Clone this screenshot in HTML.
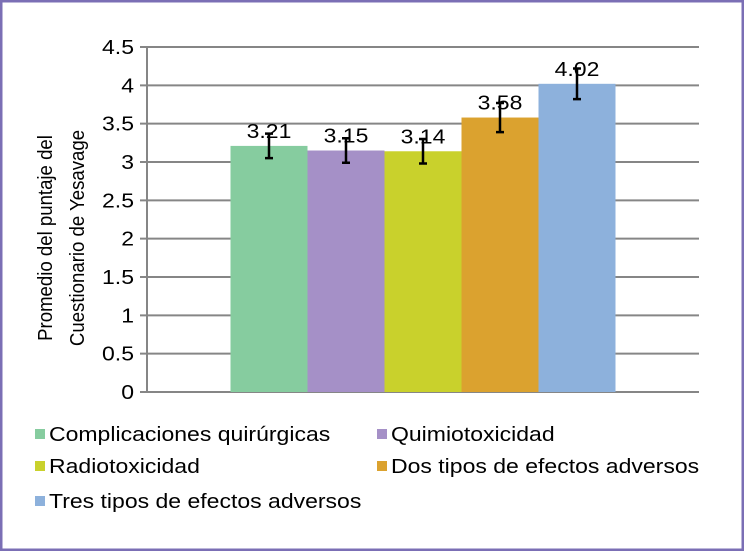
<!DOCTYPE html>
<html><head><meta charset="utf-8"><style>
body{margin:0;background:#fff}
svg{display:block;font-family:"Liberation Sans",sans-serif}
</style></head><body>
<svg id="c" width="744" height="551">
<rect x="1" y="1" width="742" height="549" fill="#fff" stroke="#7b6fb5" stroke-width="3"/>
<text id="yt" transform="translate(52,238) rotate(-90)" text-anchor="middle" font-size="20" fill="#000"><tspan x="0" dy="0">Promedio del puntaje del</tspan><tspan x="0" dy="32">Cuestionario de Yesavage</tspan></text>
<g id="grid"></g><g id="bars"></g><g id="legend"></g>
</svg>
<script>
const series=["Complicaciones quirúrgicas","Quimiotoxicidad","Radiotoxicidad","Dos tipos de efectos adversos","Tres tipos de efectos adversos"];
const values=[3.21,3.15,3.14,3.58,4.02];
const errors=[0.16,0.16,0.16,0.19,0.2];
const ticks=[0,0.5,1,1.5,2,2.5,3,3.5,4,4.5];
const colors=["#86cc9f","#a590c7","#c9d12c","#dba22f","#8db1dc"];
const NS="http://www.w3.org/2000/svg";
const x0=147,x1=699,yb=392,yt=47,ymax=4.5,SX=1.15;
const y=v=>yb-(yb-yt)*v/ymax;
function mk(t,a,p){const e=document.createElementNS(NS,t);for(const k in a)e.setAttribute(k,a[k]);p.appendChild(e);return e;}
function stretch(t,f){const w=t.getComputedTextLength();t.setAttribute('textLength',w*f);t.setAttribute('lengthAdjust','spacingAndGlyphs');}
const g=document.getElementById('grid');
ticks.forEach(t=>{
  const l=mk('line',{x1:140,x2:x1,y1:y(t),y2:y(t),stroke:'#868686','stroke-width':2},g);
  
  
  const tx=mk('text',{x:134,y:y(t)+7,'text-anchor':'end','font-size':20},g);tx.textContent=String(t);
  
  
  stretch(tx,SX);
});
const ax=mk('line',{x1:x0,x2:x0,y1:yt,y2:yb,stroke:'#868686','stroke-width':2},g);


const b=document.getElementById('bars');
const bw=77,gx=(x0+x1)/2-bw*values.length/2;
values.forEach((v,i)=>{
  const bx=gx+i*bw;
  const r=mk('rect',{x:bx,y:y(v),width:bw,height:yb-y(v),fill:colors[i]},b);
  
  
  const cx=bx+bw/2,e=errors[i];
  const eb=mk('path',{d:`M${cx},${y(v+e)}V${y(v-e)}M${cx-4},${y(v+e)}H${cx+4}M${cx-4},${y(v-e)}H${cx+4}`,stroke:'#000','stroke-width':2.5,fill:'none'},b);
  
  
  const t=mk('text',{x:cx,y:y(v)-8,'text-anchor':'middle','font-size':20},b);t.textContent=v.toFixed(2);
  
  
  stretch(t,SX);
});
const lg=document.getElementById('legend');
const pos=[[35,434],[377,434],[35,466],[377,466],[35,501]];
series.forEach((s,i)=>{
  const [lx,ly]=pos[i];
  const gg=mk('g',{},lg);
  
  
  mk('rect',{x:lx,y:ly-5,width:10,height:10,fill:colors[i]},gg);
  const t=mk('text',{x:lx+14,y:ly+7,'font-size':20},gg);t.textContent=s;
  stretch(t,SX);
});
document.querySelectorAll('#yt tspan').forEach(t=>stretch(t,0.93));
</script>
</body></html>
